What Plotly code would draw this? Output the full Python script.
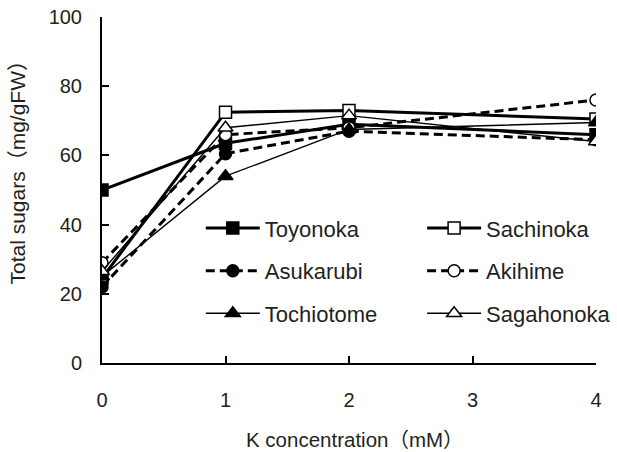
import plotly.graph_objects as go

# K concentration (mM)
k_conc = [0, 1, 2, 4]

# Total sugars (mg/gFW) per cultivar
toyonoka = [50.0, 63.5, 69.0, 66.0]
sachinoka = [24.5, 72.5, 73.0, 70.5]
asukarubi = [22.0, 60.5, 67.0, 64.5]
akihime = [29.0, 66.0, 68.0, 76.0]
tochiotome = [25.0, 54.0, 67.5, 69.5]
sagahonoka = [26.5, 68.0, 71.5, 64.0]

x_ticks = [0, 1, 2, 3, 4]
y_ticks = [0, 20, 40, 60, 80, 100]

FONT = "Liberation Sans, Noto Sans CJK JP, sans-serif"

series = [
    # name, values, symbol, fill, line width, dash, legend
    ("Toyonoka", toyonoka, "square", "black", 3, "solid", "legend"),
    ("Sachinoka", sachinoka, "square", "white", 3, "solid", "legend2"),
    ("Asukarubi", asukarubi, "circle", "black", 3, "9px,5px", "legend"),
    ("Akihime", akihime, "circle", "white", 3, "9px,5px", "legend2"),
    ("Tochiotome", tochiotome, "triangle-up", "black", 1.4, "solid", "legend"),
    ("Sagahonoka", sagahonoka, "triangle-up", "white", 1.4, "solid", "legend2"),
]

fig = go.Figure()
for name, vals, sym, fill, lw, dash, leg in series:
    fig.add_trace(go.Scatter(
        x=k_conc, y=vals, name=name, mode="lines+markers",
        line=dict(color="black", width=lw, dash=dash),
        marker=dict(symbol=sym, size=13 if "triangle" in sym else 12,
                    color=fill, line=dict(color="black", width=1.5)),
        legend=leg, legendgroup=name,
    ))

legend_common = dict(
    font=dict(family=FONT, size=22, color="#231f20"),
    bgcolor="rgba(0,0,0,0)", borderwidth=0,
    tracegroupgap=11, itemsizing="trace",
    xanchor="left", yanchor="top", itemwidth=54,
)

fig.update_layout(
    width=617, height=452,
    margin=dict(l=102, r=21, t=17, b=89, autoexpand=False),
    paper_bgcolor="white", plot_bgcolor="white",
    font=dict(family=FONT, size=20, color="#231f20"),
    showlegend=True,
    legend=dict(x=0.2, y=0.45, **legend_common),
    legend2=dict(x=0.648, y=0.45, **legend_common),
    xaxis=dict(
        range=[0, 4], tickvals=x_ticks, ticktext=[str(v) for v in x_ticks],
        showgrid=False, zeroline=False, showline=True, linecolor="black",
        linewidth=2, ticks="inside", ticklen=7, tickwidth=1.5, tickcolor="black",
        ticklabelstandoff=18, tickfont=dict(family=FONT, size=20),
    ),
    yaxis=dict(
        range=[0, 100], tickvals=y_ticks, ticktext=[str(v) for v in y_ticks],
        showgrid=False, zeroline=False, showline=True, linecolor="black",
        linewidth=2, ticks="inside", ticklen=7, tickwidth=1.5, tickcolor="black",
        ticklabelstandoff=14, tickfont=dict(family=FONT, size=20),
    ),
    annotations=[
        dict(text="K concentration（mM）", xref="paper", yref="paper",
             x=0.512, y=-0.22, xanchor="center", yanchor="middle",
             showarrow=False, font=dict(family=FONT, size=20.5)),
        dict(text="Total sugars（mg/gFW）", xref="paper", yref="paper",
             x=-0.172, y=0.565, xanchor="center", yanchor="middle",
             textangle=-90, showarrow=False, font=dict(family=FONT, size=21)),
    ],
)

fig.write_html("out.html")
